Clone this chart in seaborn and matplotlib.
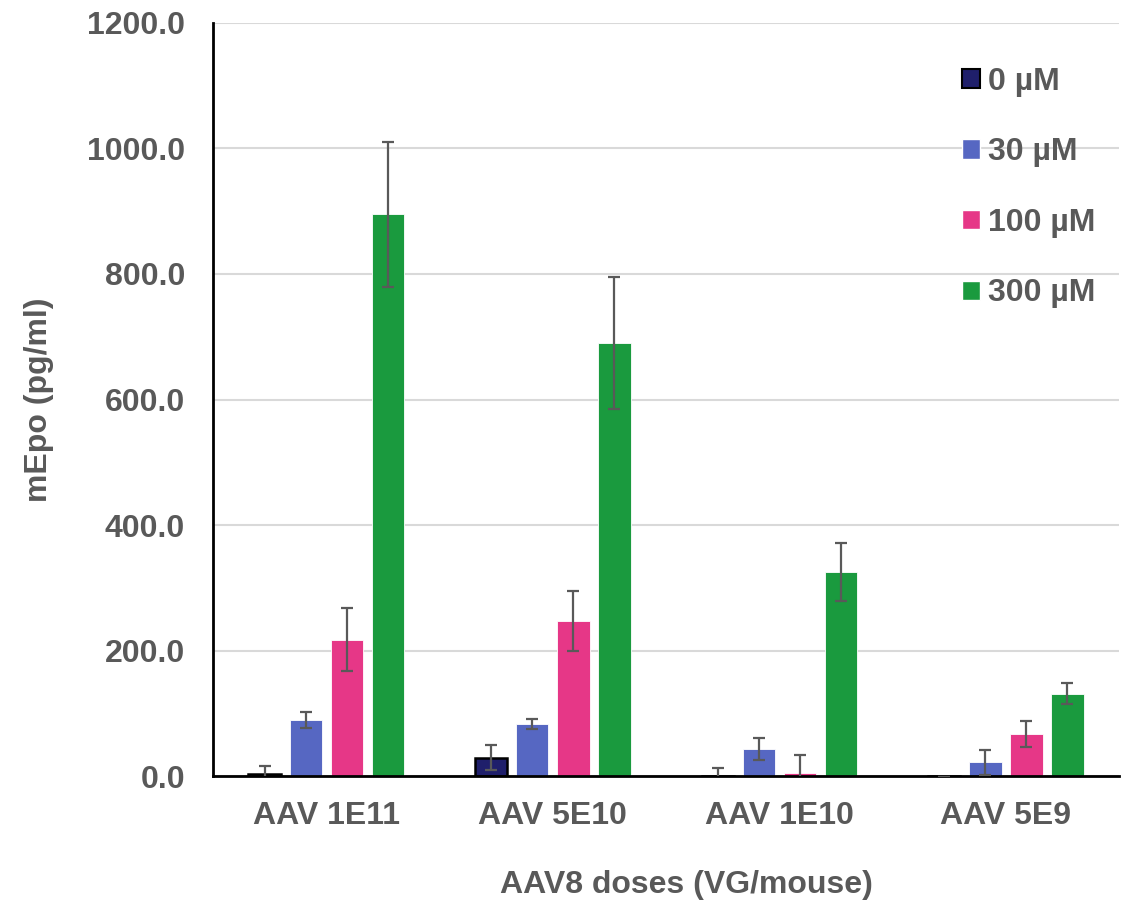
import numpy as np
import pandas as pd
import seaborn as sns
import matplotlib
matplotlib.use("Agg")
import matplotlib.pyplot as plt
from matplotlib.ticker import FormatStrFormatter

categories = ["AAV 1E11", "AAV 5E10", "AAV 1E10", "AAV 5E9"]
doses = ["0 µM", "30 µM", "100 µM", "300 µM"]
values = {
    "0 µM":   [4, 29, -1, -1],
    "30 µM":  [89, 83, 43, 22],
    "100 µM": [217, 247, 5, 67],
    "300 µM": [895, 690, 325, 131],
}
errors = {
    "0 µM":   [12, 20, 14, 0],
    "30 µM":  [13, 8, 17, 20],
    "100 µM": [50, 48, 29, 21],
    "300 µM": [115, 105, 46, 17],
}
colors = ["#1f1f6b", "#5667c2", "#e63787", "#1a9a3e"]
yticks = [0, 200, 400, 600, 800, 1000, 1200]

rows = []
for d in doses:
    for c, v, e in zip(categories, values[d], errors[d]):
        rows.append({"dose": c, "conc": d, "value": v, "err": e})
df = pd.DataFrame(rows)

sns.set_style("white")
plt.rcParams["font.family"] = ["Liberation Sans", "DejaVu Sans"]
grey = "#595959"
FS = 23

fig = plt.figure(figsize=(11.27, 9.01), dpi=100)
ax = fig.add_axes([0.189, 0.1387, 0.804, 0.8358])

sns.barplot(data=df, x="dose", y="value", hue="conc", order=categories,
            hue_order=doses, palette=colors, saturation=1, width=0.725, gap=0.21,
            errorbar=None, ax=ax, legend=True, zorder=2)

for container, d in zip(ax.containers, doses):
    xs, ys, es = [], [], []
    for bar, v, e in zip(container, values[d], errors[d]):
        xs.append(bar.get_x() + bar.get_width() / 2)
        ys.append(v)
        es.append(e)
        if d == "0 µM":
            bar.set_edgecolor("black")
            bar.set_linewidth(1.8)
        else:
            bar.set_edgecolor("white")
            bar.set_linewidth(0.6)
    ax.errorbar(xs, ys, yerr=es, fmt="none", ecolor=grey, elinewidth=1.6,
                capsize=4.5, capthick=1.6, zorder=3)

ax.set_ylim(0, 1200)
ax.set_xlim(-0.5, 3.5)
ax.set_yticks(yticks)
ax.yaxis.set_major_formatter(FormatStrFormatter("%.1f"))
ax.yaxis.grid(True, color="#d9d9d9", linewidth=1.5, zorder=0)
ax.set_axisbelow(True)
ax.tick_params(axis="both", length=0, labelsize=FS, labelcolor=grey)
ax.tick_params(axis="y", pad=20)
ax.tick_params(axis="x", pad=18)
for lab in ax.get_xticklabels() + ax.get_yticklabels():
    lab.set_fontweight("bold")

for s in ["top", "right"]:
    ax.spines[s].set_visible(False)
for s in ["left", "bottom"]:
    ax.spines[s].set_color("black")
    ax.spines[s].set_linewidth(2)

ax.set_xlabel("AAV8 doses (VG/mouse)", fontsize=FS, fontweight="bold",
              color=grey, labelpad=28)
ax.xaxis.label.set_x(0.522)
ax.set_ylabel("mEpo (pg/ml)", fontsize=FS, fontweight="bold", color=grey,
              labelpad=24)

handles, labels = ax.get_legend_handles_labels()
handles[0].set_edgecolor("black")
handles[0].set_linewidth(1.5)
leg = ax.legend(handles, labels, loc="upper right", bbox_to_anchor=(1.005, 0.98),
                frameon=False, fontsize=FS, handlelength=0.55, handleheight=0.55,
                handletextpad=0.25, labelspacing=1.27)
for t in leg.get_texts():
    t.set_color(grey)
    t.set_fontweight("bold")

fig.savefig("out.png", dpi=100)
